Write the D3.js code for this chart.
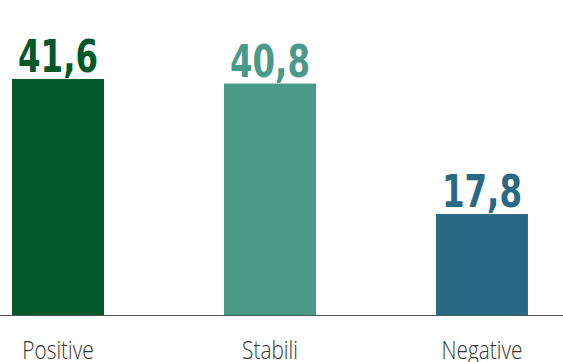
<!DOCTYPE html>
<html><head><meta charset="utf-8">
<script src="https://cdn.jsdelivr.net/npm/d3@7"></script>
<style>body{margin:0;background:#fff}svg{display:block}</style>
</head><body>
<svg id="c" width="563" height="362"></svg>
<script>
const categories = ["Positive", "Stabili", "Negative"];
const values = [41.6, 40.8, 17.8];
const valueLabels = ["41,6", "40,8", "17,8"];
const colors = ["#00582b", "#4a9a88", "#2a6983"];

const svg = d3.select("#c");
const W = 563, baseY = 315;
const x = d3.scaleBand().domain(categories).range([-11.5, 551.5]).paddingInner(0.566).paddingOuter(0.111);
const y = d3.scaleLinear().domain([0, 41.6]).range([baseY, 79]);

svg.selectAll("rect.bar").data(values).enter().append("rect")
  .attr("class", "bar")
  .attr("x", (d, i) => x(categories[i]))
  .attr("width", x.bandwidth())
  .attr("y", d => y(d))
  .attr("height", d => baseY - y(d))
  .attr("fill", (d, i) => colors[i]);

svg.append("line").attr("x1", 0).attr("x2", W).attr("y1", baseY + 0.5).attr("y2", baseY + 0.5)
  .attr("stroke", "#555").attr("stroke-width", 1.2);

svg.selectAll("text.val").data(values).enter().append("text")
  .attr("class", "val")
  .attr("transform", (d, i) => `translate(${x(categories[i]) + x.bandwidth() / 2},${y(d) - 7}) scale(0.82,1)`)
  .attr("text-anchor", "middle")
  .attr("font-family", "DejaVu Sans Condensed, DejaVu Sans")
  .attr("font-stretch", "condensed")
  .attr("font-weight", "bold")
  .attr("font-size", 44)
  .attr("fill", (d, i) => colors[i])
  .text((d, i) => valueLabels[i]);

const xAxis = d3.axisBottom(x).tickSize(0).tickPadding(0);
const g = svg.append("g").attr("transform", `translate(0,${baseY})`).call(xAxis);
g.select(".domain").remove();
g.selectAll("text")
  .attr("y", 0).attr("dy", 0)
  .attr("transform", "translate(0,44) scale(0.8,1)")
  .attr("font-family", "Open Sans, Lato, sans-serif")
  .attr("font-weight", 300)
  .attr("font-size", 26)
  .attr("fill", "#333");
</script>
</body></html>
